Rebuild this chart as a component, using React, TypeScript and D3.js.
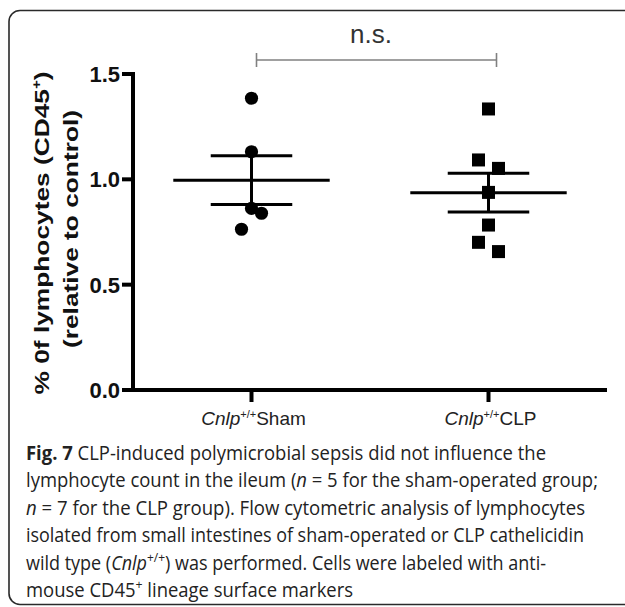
import * as d3 from 'd3'

// groups and the values
const groups = ['Sham', 'CLP']
const shamValues = [1.385, 1.131, 0.862, 0.839, 0.763]
const clpValues = [1.334, 1.092, 1.052, 0.938, 0.783, 0.701, 0.657]
const yTicks = [0.0, 0.5, 1.0, 1.5]
const captionLines = [
  'CLP-induced polymicrobial sepsis did not influence the',
  'lymphocyte count in the ileum (',
  ' for the CLP group). Flow cytometric analysis of lymphocytes',
  'isolated from small intestines of sham-operated or CLP cathelicidin',
  'wild type (',
  'mouse CD45',
]

const FONT = '"Liberation Sans", Arial, Helvetica, sans-serif'
const CAPTION_FONT = '"Open Sans", "Noto Sans", sans-serif'

// GraphPad-like dodge: bin values, spread points in a bin sideways
const dodge = (values: number[], binWidth = 0.125) => {
  const order = d3.range(values.length).sort((a, b) => values[b] - values[a])
  const bins = d3.group(order, i => Math.floor(values[i] / binWidth + 1e-9))
  const slot = new Array(values.length).fill(0)
  for (const members of bins.values()) {
    const odd = members.length % 2 === 1
    members.forEach((idx, k) => {
      if (odd) slot[idx] = k === 0 ? 0 : (k % 2 === 1 ? 1 : -1) * Math.ceil(k / 2)
      else slot[idx] = (k % 2 === 0 ? -1 : 1) * (Math.floor(k / 2) + 1)
    })
  }
  return slot
}

export default function App() {
  const width = 625
  const height = 607
  const axisLeft = 133
  const axisRight = 607
  const axisTop = 74
  const axisBottom = 390

  const x = d3.scalePoint<string>().domain(groups).range([axisLeft, axisRight]).padding(0.5)
  const y = d3.scaleLinear().domain([0, 1.5]).range([axisBottom, axisTop])
  const step = x.step()

  const series = [
    {key: 'Sham', values: shamValues, shape: 'circle'},
    {key: 'CLP', values: clpValues, shape: 'square'},
  ]

  const captionY = d3.range(6).map(i => 460 + i * 27.4)

  return (
    <svg width={width} height={height} style={{position: 'absolute', left: 0, top: 0, background: '#fff'}}>
      <rect x={9} y={10.5} width={700} height={594} rx={11} fill="none" stroke="#2a2a2a" strokeWidth={1.6}/>

      {/* significance bracket */}
      <g stroke="#808080" strokeWidth={1.6}>
        <line x1={x('Sham')! + 5} x2={x('CLP')! + 8} y1={60} y2={60}/>
        <line x1={x('Sham')! + 5} x2={x('Sham')! + 5} y1={53} y2={67}/>
        <line x1={x('CLP')! + 8} x2={x('CLP')! + 8} y1={53} y2={67}/>
      </g>
      <text x={(x('Sham')! + x('CLP')!) / 2 + 1} y={43} textAnchor="middle" fontFamily={FONT} fontSize={26} fill="#333">n.s.</text>

      {/* y axis */}
      <line x1={axisLeft} x2={axisLeft} y1={axisTop - 2} y2={axisBottom + 2} stroke="#000" strokeWidth={4}/>
      {yTicks.map(t => (
        <g key={t}>
          <line x1={axisLeft - 11} x2={axisLeft} y1={y(t)} y2={y(t)} stroke="#000" strokeWidth={4}/>
          <text x={axisLeft - 13} y={y(t)} dy="0.36em" textAnchor="end" fontFamily={FONT} fontWeight="bold" fontSize={22} fill="#111">
            {d3.format('.1f')(t)}
          </text>
        </g>
      ))}

      {/* x axis */}
      <line x1={axisLeft - 2} x2={axisRight} y1={axisBottom} y2={axisBottom} stroke="#000" strokeWidth={4}/>
      {groups.map(g => (
        <g key={g}>
          <line x1={x(g)} x2={x(g)} y1={axisBottom} y2={axisBottom + 12} stroke="#000" strokeWidth={4}/>
          <text x={x(g)! + 2} y={425} textAnchor="middle" fontFamily={FONT} fontSize={19} fill="#222">
            <tspan fontStyle="italic">Cnlp</tspan>
            <tspan fontSize={11} dy={-7}>+/+</tspan>
            <tspan dy={7}>{g}</tspan>
          </text>
        </g>
      ))}

      {/* y axis title */}
      <text transform="translate(49,233) rotate(-90)" textAnchor="middle" fontFamily={FONT} fontWeight="bold"
            fontSize={21} fill="#111" textLength={323} lengthAdjust="spacingAndGlyphs">
        % 0f lymphocytes (CD45<tspan fontSize={12} dy={-8}>+</tspan><tspan dy={8}>)</tspan>
      </text>
      <text transform="translate(78,229) rotate(-90)" textAnchor="middle" fontFamily={FONT} fontWeight="bold"
            fontSize={21} fill="#111" textLength={238} lengthAdjust="spacingAndGlyphs">
        (relative to control)
      </text>

      {/* points, mean and SEM */}
      {series.map(s => {
        const cx = x(s.key)!
        const slots = dodge(s.values)
        const mean = d3.mean(s.values)!
        const sem = d3.deviation(s.values)! / Math.sqrt(s.values.length)
        return (
          <g key={s.key}>
            {s.values.map((v, i) => s.shape === 'circle'
              ? <circle key={i} cx={cx + slots[i] * 10} cy={y(v)} r={6.6} fill="#000"/>
              : <rect key={i} x={cx + slots[i] * 10 - 6.5} y={y(v) - 6.5} width={13} height={13} fill="#000"/>
            )}
            <g stroke="#000" strokeWidth={3}>
              <line x1={cx - step * 0.33} x2={cx + step * 0.33} y1={y(mean)} y2={y(mean)}/>
              <line x1={cx} x2={cx} y1={y(mean + sem)} y2={y(mean - sem)}/>
              <line x1={cx - step * 0.172} x2={cx + step * 0.172} y1={y(mean + sem)} y2={y(mean + sem)}/>
              <line x1={cx - step * 0.172} x2={cx + step * 0.172} y1={y(mean - sem)} y2={y(mean - sem)}/>
            </g>
          </g>
        )
      })}

      {/* caption */}
      <g fontFamily={CAPTION_FONT} fontSize={19.5} fill="#222">
        <text x={26} y={captionY[0]} textLength={520} lengthAdjust="spacingAndGlyphs">
          <tspan fontWeight="bold">Fig. 7</tspan> {captionLines[0]}
        </text>
        <text x={26} y={captionY[1]} textLength={572} lengthAdjust="spacingAndGlyphs">
          {captionLines[1]}<tspan fontStyle="italic">n</tspan> = 5 for the sham-operated group;
        </text>
        <text x={26} y={captionY[2]} textLength={559} lengthAdjust="spacingAndGlyphs">
          <tspan fontStyle="italic">n</tspan> = 7{captionLines[2]}
        </text>
        <text x={26} y={captionY[3]} textLength={558} lengthAdjust="spacingAndGlyphs">
          {captionLines[3]}
        </text>
        <text x={26} y={captionY[4]} textLength={520} lengthAdjust="spacingAndGlyphs">
          {captionLines[4]}<tspan fontStyle="italic">Cnlp</tspan><tspan fontSize={13} dy={-8}>+/+</tspan><tspan dy={8}>) was performed. Cells were labeled with anti-</tspan>
        </text>
        <text x={26} y={captionY[5]} textLength={327} lengthAdjust="spacingAndGlyphs">
          {captionLines[5]}<tspan fontSize={13} dy={-8}>+</tspan><tspan dy={8}> lineage surface markers</tspan>
        </text>
      </g>
    </svg>
  )
}
